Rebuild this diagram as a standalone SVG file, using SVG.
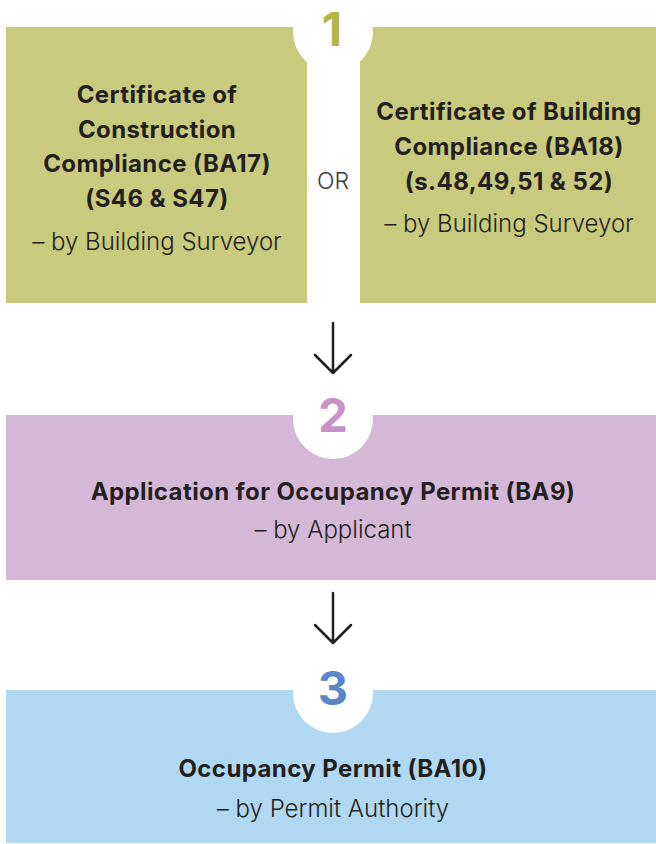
<svg xmlns="http://www.w3.org/2000/svg" width="656" height="844" viewBox="0 0 656 844">
  <style>
    .title { font-family: Inter, "Open Sans", "Liberation Sans", sans-serif; font-weight: 700; font-size: 24px; letter-spacing: 0.4px; fill: #231f20; text-anchor: middle; }
    .sub { font-family: Inter, "Open Sans", "Liberation Sans", sans-serif; font-weight: 300; font-size: 24px; fill: #231f20; text-anchor: middle; }
    .num { font-family: Inter, "Open Sans", "Liberation Sans", sans-serif; font-weight: 700; font-size: 47px; text-anchor: middle; }
    .badge { fill: #ffffff; }
    .arrow { fill: none; stroke: #231f20; stroke-width: 2.5; stroke-linecap: round; stroke-linejoin: round; }
  </style>

  <rect width="656" height="844" fill="#ffffff"/>

  <!-- Step 1: two alternative certificates -->
  <g id="step1-ba17">
    <rect x="6" y="27" width="301" height="276" fill="#c8ca7e"/>
    <text class="title" x="157" y="103">Certificate of</text>
    <text class="title" x="157" y="138">Construction</text>
    <text class="title" x="157" y="172">Compliance (BA17)</text>
    <text class="title" x="157" y="207">(S46 &amp; S47)</text>
    <text class="sub" x="157" y="250">– by Building Surveyor</text>
  </g>

  <g id="step1-ba18">
    <rect x="360" y="27" width="296" height="276" fill="#c8ca7e"/>
    <text class="title" x="509" y="120">Certificate of Building</text>
    <text class="title" x="509" y="155">Compliance (BA18)</text>
    <text class="title" x="509" y="190">(s.48,49,51 &amp; 52)</text>
    <text class="sub" x="509" y="232">– by Building Surveyor</text>
  </g>

  <g id="or-label">
    <text class="sub" x="333" y="189" style="font-size:23px; fill:#3a3a3a">OR</text>
  </g>

  <g id="badge1">
    <circle class="badge" cx="333" cy="32" r="40"/>
    <text class="num" x="332" y="46" fill="#b3b544">1</text>
  </g>

  <!-- Step 2 -->
  <g id="step2">
    <rect x="6" y="415" width="650" height="165" fill="#d5b8d7"/>
    <circle class="badge" cx="333" cy="419" r="40"/>
    <text class="num" x="333" y="432" fill="#c892c4">2</text>
    <text class="title" x="333" y="500">Application for Occupancy Permit (BA9)</text>
    <text class="sub" x="333" y="538">– by Applicant</text>
  </g>

  <!-- Step 3 -->
  <g id="step3">
    <rect x="6" y="690" width="650" height="153" fill="#b1d8f1"/>
    <circle class="badge" cx="333" cy="693" r="40"/>
    <text class="num" x="333" y="705" fill="#5c86c8">3</text>
    <text class="title" x="333" y="777">Occupancy Permit (BA10)</text>
    <text class="sub" x="333" y="817">– by Permit Authority</text>
  </g>

  <!-- Connectors -->
  <g id="connectors">
    <path class="arrow" d="M333 323 V373 M315 355 L333 373 L351 355"/>
    <path class="arrow" d="M333 593 V643 M315 625 L333 643 L351 625"/>
  </g>
</svg>
